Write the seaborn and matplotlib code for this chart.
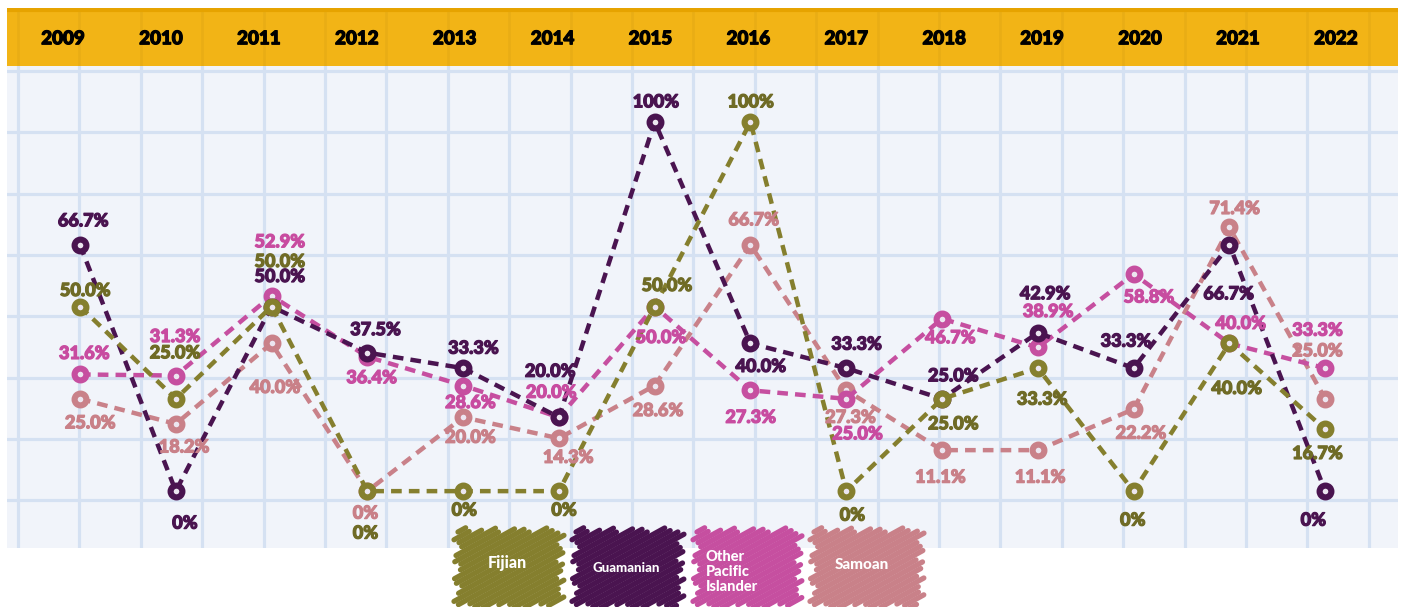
import matplotlib
matplotlib.use('Agg')
import matplotlib.pyplot as plt
import matplotlib.patheffects as pe
import numpy as np
import pandas as pd
import seaborn as sns

# Data (share of each group per year, %)
years = list(range(2009, 2023))
fijian = [50.0, 25.0, 50.0, 0, 0, 0, 50.0, 100, 0, 25.0, 33.3, 0, 40.0, 16.7]
guamanian = [66.7, 0, 50.0, 37.5, 33.3, 20.0, 100, 40.0, 33.3, 25.0, 42.9, 33.3, 66.7, 0]
other_pi = [31.6, 31.3, 52.9, 36.4, 28.6, 20.0, 50.0, 27.3, 25.0, 46.7, 38.9, 58.8, 40.0, 33.3]
samoan = [25.0, 18.2, 40.0, 0, 20.0, 14.3, 28.6, 66.7, 27.3, 11.1, 11.1, 22.2, 71.4, 25.0]

groups = ['Fijian', 'Guamanian', 'Other Pacific Islander', 'Samoan']
line_colors = {'Fijian': '#857f2e', 'Guamanian': '#4a1450',
               'Other Pacific Islander': '#c64fa0', 'Samoan': '#c98189'}
label_colors = {'Fijian': '#6f6b26', 'Guamanian': '#4a1450',
                'Other Pacific Islander': '#c84ca0', 'Samoan': '#c98088'}

# label offsets in pixels (dx, dy up)
offsets = {
    'Guamanian': [(3, 24), (9, -32), (8, 30), (8, 23), (10, 20), (-9, 46), (1, 20),
                  (10, -23), (10, 24), (11, 23), (7, 39), (-8, 27), (-1, -49), (-12, -29)],
    'Fijian': [(5, 16), (-1, 46), (8, 45), (-2, -42), (1, -19), (5, -19), (12, 21),
               (0, 20), (6, -24), (11, -25), (4, -31), (-1, -29), (7, -45), (-8, -24)],
    'Other Pacific Islander': [(4, 21), (-1, 39), (8, 54), (4, -21), (7, -17), (-8, 25), (6, -31),
                               (0, -27), (11, -35), (8, -19), (10, 36), (15, -23), (11, 20), (-8, 38)],
    'Samoan': [(10, -24), (8, -23), (3, -44), (-2, -22), (7, -20), (9, -19), (3, -25),
               (3, 25), (4, -27), (-2, -27), (2, -27), (7, -24), (5, 19), (-8, 48)],
}

df = pd.DataFrame({'year': years * 4,
                   'value': fijian + guamanian + other_pi + samoan,
                   'group': sum([[g] * len(years) for g in groups], [])})

sns.set_style('white')
plt.rcParams['font.family'] = ['Lato', 'DejaVu Sans']

W, H = 1403, 607
fig = plt.figure(figsize=(W / 100, H / 100), dpi=100)
fig.patch.set_facecolor('white')

def rect(x0, y0, x1, y1):
    return [x0 / W, 1 - y1 / H, (x1 - x0) / W, (y1 - y0) / H]

def bare(a):
    a.set_xticks([])
    a.set_yticks([])
    for s in a.spines.values():
        s.set_visible(False)

# graph paper background
bg = fig.add_axes(rect(7, 65, 1398, 548))
bg.set_xlim(7, 1398)
bg.set_ylim(548, 65)
bg.set_facecolor('#f1f4fa')
for x in np.arange(18, 1398, 61.4):
    bg.axvline(x, color='#d5e1f2', lw=2.3)
for y in np.arange(71, 548, 61.3):
    bg.axhline(y, color='#d5e1f2', lw=2.3)
bare(bg)

# header band
hd = fig.add_axes(rect(7, 8, 1398, 66))
hd.set_xlim(-0.572, 13.636)
hd.set_ylim(0, 1)
hd.set_facecolor('#f2b416')
for x in np.arange(18, 1398, 61.4):
    hd.axvline((x - 63) / 97.9, color='#d9a214', lw=2, alpha=0.35)
hd.axhline(0.97, color='#e6a300', lw=3)
for i, yr in enumerate(years):
    hd.text(i, 0.47, str(yr), ha='center', va='center', fontsize=13.5,
            fontweight='black', color='black',
            path_effects=[pe.withStroke(linewidth=0.9, foreground='black')])
bare(hd)

# main lines
ax = fig.add_axes(rect(7, 65, 1398, 548))
ax.patch.set_visible(False)
draw_order = ['Samoan', 'Other Pacific Islander', 'Guamanian', 'Fijian']
for g in draw_order:
    sub = df[df['group'] == g]
    sns.lineplot(data=sub, x='year', y='value', ax=ax, color=line_colors[g],
                 linestyle=(0, (2.4, 1.6)), linewidth=3.2, marker='o', markersize=8.5,
                 markeredgewidth=4.4, markeredgecolor=line_colors[g],
                 markerfacecolor='#ece6f0', legend=False)

for g in groups:
    sub = df[df['group'] == g].reset_index(drop=True)
    for i, row in sub.iterrows():
        v = row['value']
        txt = '0%' if v == 0 else ('100%' if v == 100 else f'{v:.1f}%')
        dx, dy = offsets[g][i]
        ax.annotate(txt, (row['year'], v), xytext=(dx, dy), textcoords='offset pixels',
                    ha='center', va='center', fontsize=13, fontweight='black',
                    color=label_colors[g], zorder=5,
                    path_effects=[pe.withStroke(linewidth=0.9, foreground=label_colors[g])])

ax.set_xlim(2009 - 0.762, 2009 + 13.76)
ax.set_ylim(-15.4, 115.4)
ax.axis('off')

# scribble legend
lg = fig.add_axes([0, 0, 1, 1])
lg.set_xlim(0, W)
lg.set_ylim(H, 0)
lg.axis('off')

patches = [('Fijian', 458, 560), ('Guamanian', 576, 680),
           ('Other Pacific Islander', 697, 798), ('Samoan', 814, 920)]
y0, y1 = 530, 606
slope = -0.55
for g, x0, x1 in patches:
    col = line_colors[g]
    cs = np.arange(y0 - slope * x0 + 2, y1 - slope * x1 - 2, 5.6)
    for k, c in enumerate(cs):
        xa = max(x0, (y1 - c) / slope)
        xb = min(x1, (y0 - c) / slope)
        if xb <= xa:
            continue
        ja = 4 * np.sin(k * 1.7)
        jb = 4 * np.cos(k * 2.3)
        xs = [xa - ja, xb + jb]
        ys = [c + slope * xs[0], c + slope * xs[1]]
        lg.plot(xs, ys, color=col, lw=3.8, solid_capstyle='round')

lg.text(507, 563, 'Fijian', color='white', fontsize=11.5, fontweight='black',
        ha='center', va='center')
lg.text(626, 568, 'Guamanian', color='white', fontsize=9.5, fontweight='black',
        ha='center', va='center')
lg.text(706, 572, 'Other\nPacific\nIslander', color='white', fontsize=10.5,
        fontweight='black', ha='left', va='center', linespacing=1.1)
lg.text(862, 565, 'Samoan', color='white', fontsize=11, fontweight='black',
        ha='center', va='center')

fig.savefig('out.png', dpi=100)
